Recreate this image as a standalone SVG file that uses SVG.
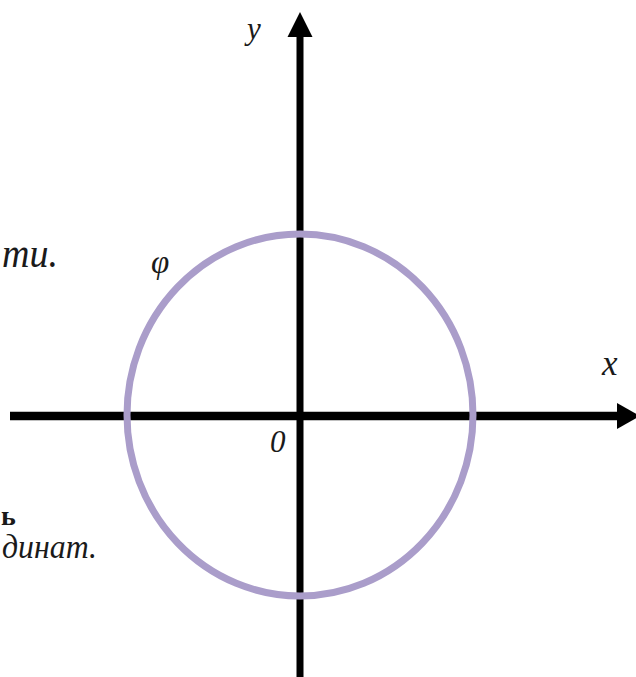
<svg xmlns="http://www.w3.org/2000/svg" width="636" height="677" viewBox="0 0 636 677">
<style>
.ax{stroke:#000;fill:none}
.lbl{font-family:"Liberation Serif","DejaVu Serif",serif;font-style:italic;fill:#1a1a1a}
</style>
<rect width="636" height="677" fill="#fff"/>
<g id="axes">
<line class="ax" x1="10" y1="416" x2="620" y2="416" stroke-width="8.5"/>
<polygon points="617,403 640,416 617,429" fill="#000"/>
<line class="ax" x1="300" y1="677" x2="300" y2="33" stroke-width="7"/>
<polygon points="287.5,37 300,12 312.5,37" fill="#000"/>
</g>
<g id="circle">
<ellipse cx="300" cy="415" rx="173" ry="181" fill="none" stroke="#aa9dca" stroke-width="7"/>
</g>
<g id="labels">
<text class="lbl" x="247" y="39" font-size="31">y</text>
<text class="lbl" x="602" y="375" font-size="35">x</text>
<text class="lbl" x="270" y="452" font-size="31">0</text>
<text class="lbl" x="151" y="273" font-size="33">φ</text>
<text class="lbl" x="2" y="267" font-size="42" textLength="56" lengthAdjust="spacingAndGlyphs">ти.</text>
<text x="1" y="525" font-size="28" font-weight="bold" font-family="Liberation Serif, serif" fill="#1a1a1a">ь</text>
<text class="lbl" x="2" y="558" font-size="33" textLength="95" lengthAdjust="spacingAndGlyphs">динат.</text>
</g>
</svg>
